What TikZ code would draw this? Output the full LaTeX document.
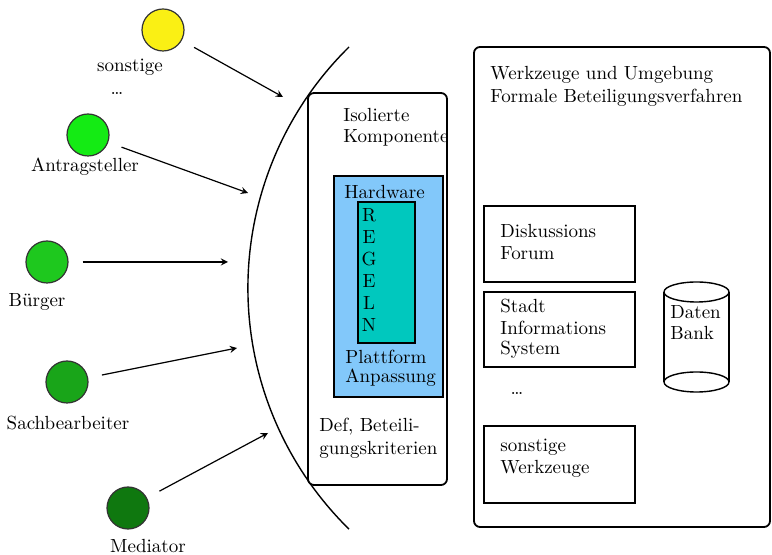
\documentclass[tikz,border=0pt]{standalone}
\usepackage{tikz}

\begin{document}
\begin{tikzpicture}[x=0.5pt, y=-0.5pt, font=\fontsize{9.5}{11}\selectfont]
    \definecolor{c_yellow}{RGB}{250, 240, 20}
    \definecolor{c_green_a}{RGB}{20, 235, 20}
    \definecolor{c_green_b}{RGB}{30, 200, 30}
    \definecolor{c_green_c}{RGB}{25, 165, 25}
    \definecolor{c_green_d}{RGB}{15, 120, 15}
    \definecolor{c_blue}{RGB}{130, 200, 250}
    \definecolor{c_teal}{RGB}{0, 200, 190}
    \tikzset{
        actor/.style={circle, draw=black!80, line width=0.6pt, minimum size=21pt, inner sep=0pt},
        txt/.style={anchor=west, inner sep=0pt},
        box/.style={draw, line width=0.9pt},
        flow/.style={->, >=stealth, line width=0.6pt, shorten <=7pt}
    }
    \useasboundingbox (0,0) rectangle (772,555);

    % Actors on the left
    \node[actor, fill=c_yellow] (sonst) at (163,30) {};
    \node (sonst_l) at (130,67) {sonstige};
    \node (dots_l) at (117,93) {\dots};
    \node[actor, fill=c_green_a] (antrag) at (88,135) {};
    \node (antrag_l) at (85,167) {Antragsteller};
    \node[actor, fill=c_green_b] (buerger) at (47,262) {};
    \node (buerger_l) at (37,302) {Bürger};
    \node[actor, fill=c_green_c] (sachb) at (67,382) {};
    \node (sachb_l) at (68,423) {Sachbearbeiter};
    \node[actor, fill=c_green_d] (medi) at (128,508) {};
    \node (medi_l) at (148,546) {Mediator};

    % Arrow ends in front of the arc
    \coordinate (in_sonst) at (283,97);
    \coordinate (in_antrag) at (248,193);
    \coordinate (in_buerger) at (228,262);
    \coordinate (in_sachb) at (237,348);
    \coordinate (in_medi) at (268,433);
    \draw[flow] (sonst) -- (in_sonst);
    \draw[flow] (antrag) -- (in_antrag);
    \draw[flow] (buerger) -- (in_buerger);
    \draw[flow] (sachb) -- (in_sachb);
    \draw[flow] (medi) -- (in_medi);

    % The arc (system border)
    \draw[line width=0.7pt] (349,47) arc[start angle=225.5, end angle=134.5, radius=338];

    % Isolated component
    \draw[box, fill=white, rounded corners=3pt] (308,93) rectangle (447,485);
    \node[txt] (iso1) at (343,115) {Isolierte};
    \node[txt] (iso2) at (343,138) {Komponente};
    \draw[box, fill=c_blue] (334,176) rectangle (443,397);
    \node[txt] (hw) at (344,192) {Hardware};
    \draw[box, fill=c_teal] (358,202) rectangle (415,343);
    \node (reg1) at (369,215) {R};
    \node (reg2) at (369,237) {E};
    \node (reg3) at (369,259) {G};
    \node (reg4) at (369,281) {E};
    \node (reg5) at (369,303) {L};
    \node (reg6) at (369,325) {N};
    \node[txt] (plat1) at (345,357) {Plattform};
    \node[txt] (plat2) at (345,378) {Anpassung};
    \node[txt] (def1) at (319,427) {Def, Beteili-};
    \node[txt] (def2) at (319,450) {gungskriterien};

    % Tools and environment
    \draw[box, rounded corners=3pt] (474,47) rectangle (770,527);
    \node[txt] (wz1) at (490,75) {Werkzeuge und Umgebung};
    \node[txt] (wz2) at (490,98) {Formale Beteiligungsverfahren};

    \draw[box] (484,206) rectangle (635,282);
    \node[txt] (disk1) at (500,231) {Diskussions};
    \node[txt] (disk2) at (500,253) {Forum};

    \draw[box] (484,292) rectangle (635,367);
    \node[txt] (sis1) at (500,306) {Stadt};
    \node[txt] (sis2) at (500,328) {Informations};
    \node[txt] (sis3) at (500,350) {System};

    \node (dots_r) at (517,393) {\dots};

    \draw[box] (484,426) rectangle (635,503);
    \node[txt] (sw1) at (500,447) {sonstige};
    \node[txt] (sw2) at (500,469) {Werkzeuge};

    % Database cylinder
    \draw[line width=0.7pt] (664,292) -- (664,382);
    \draw[line width=0.7pt] (729,292) -- (729,382);
    \draw[line width=0.7pt, fill=white] (696.5,292) ellipse (32.5 and 10);
    \draw[line width=0.7pt] (696.5,382) ellipse (32.5 and 10);
    \node[txt] (db1) at (670,312) {Daten};
    \node[txt] (db2) at (670,333) {Bank};
\end{tikzpicture}
\end{document}
